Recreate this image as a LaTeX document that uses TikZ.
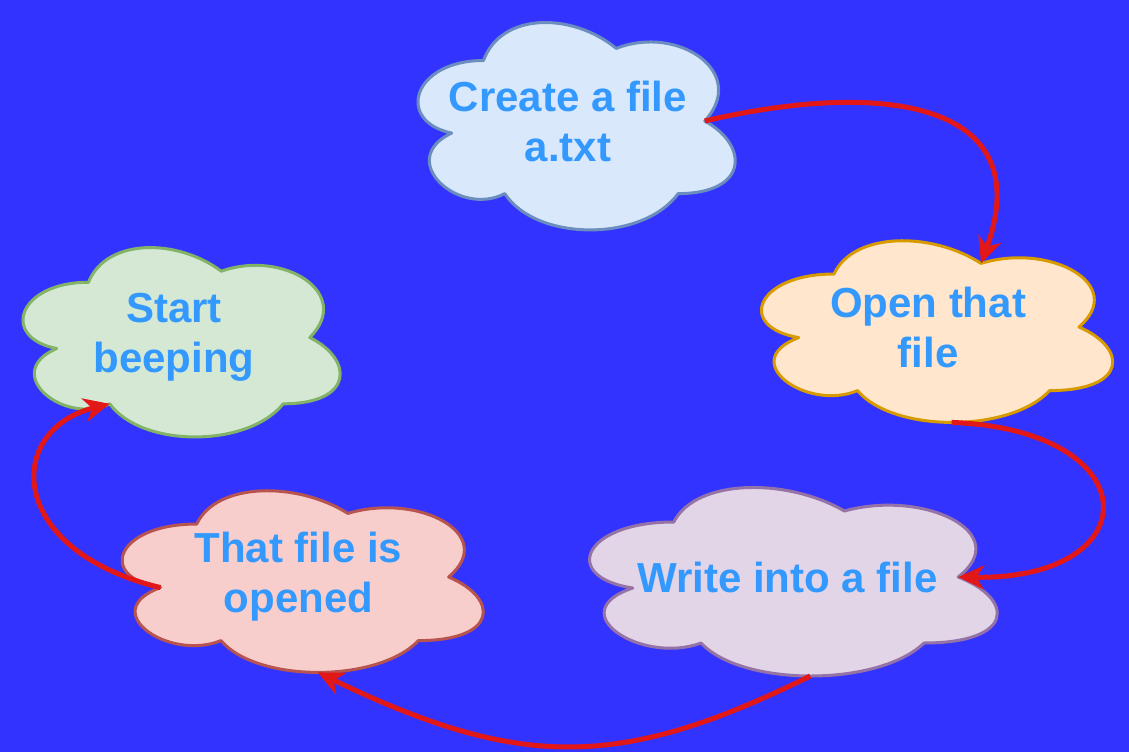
\documentclass[tikz,border=0pt]{standalone}
\usepackage{fontspec}
\setmainfont{Liberation Sans}
\usetikzlibrary{arrows.meta}
\definecolor{bgblue}{RGB}{51,51,255}
\definecolor{txtblue}{RGB}{51,153,255}
\definecolor{arrowred}{RGB}{226,24,24}
\definecolor{bluefill}{RGB}{218,232,252}
\definecolor{blueline}{RGB}{108,142,191}
\definecolor{orangefill}{RGB}{255,230,204}
\definecolor{orangeline}{RGB}{215,155,0}
\definecolor{greenfill}{RGB}{213,232,212}
\definecolor{greenline}{RGB}{130,179,102}
\definecolor{redfill}{RGB}{248,206,204}
\definecolor{redline}{RGB}{184,84,80}
\definecolor{purplefill}{RGB}{225,213,231}
\definecolor{purpleline}{RGB}{150,115,166}

% cloud: name, x, y, width, height, fill, line, text, text shift
\newcommand{\cloudnode}[9]{%
  \begin{scope}[shift={(#2,#3)}, x=#4pt, y=-#5pt]
    \draw[cloudline, fill=#6, draw=#7] (0.25,0.25)
      .. controls (0.05,0.25) and (0,0.5) .. (0.16,0.55)
      .. controls (0,0.66) and (0.18,0.9) .. (0.31,0.8)
      .. controls (0.4,1) and (0.7,1) .. (0.8,0.8)
      .. controls (1,0.8) and (1,0.6) .. (0.875,0.5)
      .. controls (1,0.3) and (0.8,0.1) .. (0.625,0.2)
      .. controls (0.5,0.05) and (0.3,0.05) .. (0.25,0.25) -- cycle;
    \coordinate (#1-l) at (0.16,0.55);
    \coordinate (#1-r) at (0.875,0.5);
    \coordinate (#1-t) at (0.625,0.2);
    \coordinate (#1-bl) at (0.31,0.8);
    \coordinate (#1-b) at (0.55,0.95);
    \node[cloudtext, xshift=#9pt] (#1) at (0.5,0.5) {#8};
  \end{scope}}

\begin{document}
\begin{tikzpicture}[x=1pt, y=-1pt,
    cloudline/.style={line width=3pt, line join=round},
    cloudtext/.style={text=txtblue, align=center, font=\fontsize{42}{50}\selectfont\bfseries},
    flow/.style={arrowred, line width=5pt, -{Stealth[length=26pt, width=24pt, inset=8pt]}}]

    \fill[bgblue] (0,0) rectangle (1129,752);
    \useasboundingbox (0,0) rectangle (1129,752);

    \cloudnode{create}{395}{0}{354}{242}{bluefill}{blueline}{Create a file\\a.txt}{-4}
    \cloudnode{open}{736}{221}{392}{212}{orangefill}{orangeline}{Open that\\file}{-4}
    \cloudnode{start}{0}{227}{354}{221}{greenfill}{greenline}{Start\\beeping}{-3}
    \cloudnode{opened}{96}{471}{403}{212}{redfill}{redline}{That file is\\opened}{1}
    \cloudnode{write}{560}{467}{455}{220}{purplefill}{purpleline}{Write into a file}{0}

    \draw[flow] (create-r) .. controls (880,80) and (1040,100) .. (open-t);
    \draw[flow] (open-b) .. controls (1150,430) and (1150,580) .. (write-r);
    \draw[flow] (write-b) .. controls (620,770) and (520,770) .. (opened-b);
    \draw[flow] (opened-l) .. controls (5,550) and (5,430) .. (start-bl);

\end{tikzpicture}
\end{document}
